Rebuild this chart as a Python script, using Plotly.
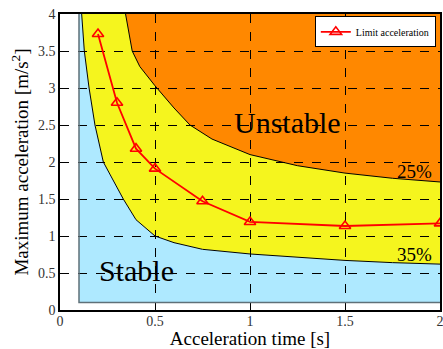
import plotly.graph_objects as go

# Limit acceleration series
acc_time = [0.2, 0.3, 0.4, 0.5, 0.75, 1.0, 1.5, 2.0]
limit_acc = [3.73, 2.80, 2.18, 1.91, 1.47, 1.19, 1.135, 1.17]

# 25% boundary curve (yellow / orange)
c25_x = [0.345, 0.38, 0.42, 0.5, 0.6, 0.684, 0.8, 1.0, 1.25, 1.5, 1.75, 2.0]
c25_y = [4.0, 3.5, 3.29, 3.03, 2.73, 2.5, 2.31, 2.10, 1.95, 1.85, 1.78, 1.73]

# 35% boundary curve (blue / yellow)
c35_x = [0.114, 0.128, 0.153, 0.184, 0.228, 0.28, 0.333, 0.4, 0.5, 0.6, 0.75, 1.0, 1.25, 1.5, 1.75, 2.0]
c35_y = [4.0, 3.5, 3.0, 2.5, 2.0, 1.76, 1.5, 1.22, 1.0, 0.91, 0.82, 0.757, 0.71, 0.67, 0.64, 0.62]

# stable region limits
t_min = 0.1
a_min = 0.1
x_max = 2.0
y_max = 4.0

x_ticks = [0, 0.5, 1, 1.5, 2]
y_ticks = [0, 0.5, 1, 1.5, 2, 2.5, 3, 3.5, 4]

FONT = "Liberation Serif"


def path(xs, ys):
    pts = " L ".join(f"{x},{y}" for x, y in zip(xs, ys))
    return "M " + pts + " Z"


fig = go.Figure()

shapes = []
# yellow: right of 35% curve
shapes.append(dict(type="path", xref="x", yref="y", layer="below",
                   path=path(c35_x + [x_max], c35_y + [y_max]),
                   fillcolor="#f5f51e", line=dict(width=0)))
# orange: above 25% curve
shapes.append(dict(type="path", xref="x", yref="y", layer="below",
                   path=path(c25_x + [x_max], c25_y + [y_max]),
                   fillcolor="#ff8800", line=dict(width=0)))
# blue: stable
shapes.append(dict(type="path", xref="x", yref="y", layer="below",
                   path=path([t_min] + c35_x + [x_max, t_min], [y_max] + c35_y + [a_min, a_min]),
                   fillcolor="#aee9ff", line=dict(width=0)))

fig.add_trace(go.Scatter(x=c25_x, y=c25_y, mode="lines", line=dict(color="black", width=1),
                         showlegend=False, hoverinfo="skip"))
fig.add_trace(go.Scatter(x=c35_x, y=c35_y, mode="lines", line=dict(color="black", width=1),
                         showlegend=False, hoverinfo="skip"))
fig.add_trace(go.Scatter(x=[t_min, t_min, x_max], y=[y_max, a_min, a_min], mode="lines",
                         line=dict(color="#5f7078", width=1.5), showlegend=False, hoverinfo="skip"))

fig.add_trace(go.Scatter(x=acc_time, y=limit_acc, mode="lines+markers", name="Limit acceleration",
                         line=dict(color="#ff0000", width=1.8),
                         marker=dict(symbol="triangle-up-open", size=10, color="#ff0000",
                                     line=dict(width=1.6, color="#ff0000"))))

annots = [
    dict(x=1.197, y=2.53, text="Unstable", size=30),
    dict(x=0.40, y=0.53, text="Stable", size=30),
    dict(x=1.868, y=1.87, text="25%", size=19),
    dict(x=1.868, y=0.745, text="35%", size=19),
]
for a in annots:
    fig.add_annotation(x=a["x"], y=a["y"], text=a["text"], showarrow=False,
                       font=dict(family=FONT, size=a["size"], color="black"))

axis_common = dict(showgrid=True, gridcolor="black", gridwidth=1, griddash="dash",
                   showline=True, linecolor="black", linewidth=1.5, mirror=True,
                   ticks="", zeroline=False, automargin=False, ticklabeloverflow="allow",
                   tickfont=dict(family=FONT, size=14, color="#333333"))

fig.update_xaxes(range=[0, 2], tickvals=x_ticks, ticktext=[f"{v:g}" for v in x_ticks],
                 ticklabelstandoff=-3,
                 title=dict(text="Acceleration time [s]", font=dict(family=FONT, size=19, color="black"),
                            standoff=2),
                 **axis_common)
fig.update_yaxes(range=[0, 4], tickvals=y_ticks, ticktext=[f"{v:g}" for v in y_ticks],
                 title=dict(text="Maximum acceleration [m/s<sup>2</sup>]",
                            font=dict(family=FONT, size=19, color="black"), standoff=4),
                 **axis_common)

fig.update_layout(
    width=443, height=349,
    margin=dict(l=60, r=3, t=14, b=39),
    plot_bgcolor="white", paper_bgcolor="white",
    shapes=shapes,
    showlegend=True,
    legend=dict(x=0.989, y=0.992, xanchor="right", yanchor="top",
                bgcolor="white", bordercolor="black", borderwidth=1,
                font=dict(family=FONT, size=10, color="black"),
                itemwidth=30),
    font=dict(family=FONT),
)

fig.write_html("out.html")
